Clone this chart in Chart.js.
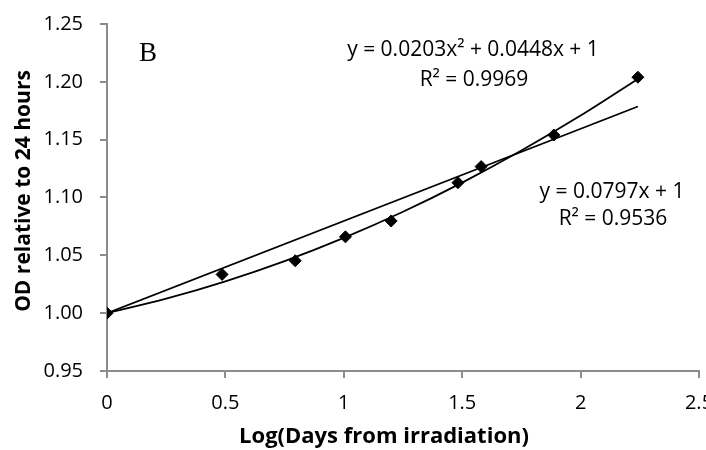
<!DOCTYPE html>
<html lang="en">
<head>
  <meta charset="UTF-8">
  <title>OD relative to 24 hours</title>
  <script src="https://cdn.jsdelivr.net/npm/chart.js"></script>
  <style>
    html, body { margin: 0; padding: 0; background: #fff; overflow: hidden; }
    #wrap { width: 706px; height: 450px; }
  </style>
</head>
<body>
<div id="wrap"><canvas id="grafico"></canvas></div>
<script>
// measured points (log days, OD relative to 24 h)
var logDias = [0, 0.486, 0.795, 1.007, 1.2, 1.482, 1.58, 1.887, 2.242];
var odRel = [1.0, 1.0335, 1.0453, 1.066, 1.0797, 1.1128, 1.1267, 1.154, 1.204];

// linear trendline y = 0.0797x + 1
var linX = [0, 2.242];
var linY = [1.0, 1.1787];

// polynomial trendline y = 0.0203x^2 + 0.0448x + 1
var polyX = [0, 0.25, 0.5, 0.75, 1.0, 1.25, 1.5, 1.75, 2.0, 2.242];
var polyY = [1.0, 1.0125, 1.0275, 1.0450, 1.0651, 1.0877, 1.1129, 1.1406, 1.1708, 1.2025];

var yTicks = [0.95, 1.0, 1.05, 1.10, 1.15, 1.20, 1.25];

function pares(xs, ys){
  var out = [];
  for(var i = 0; i < xs.length; i++){
    out.push({x: xs[i], y: ys[i]});
  }
  return out;
}

var eixoCor = '#8c8c8c';
var fonte = "'Open Sans', 'Liberation Sans', sans-serif";

// texts drawn on top (panel letter, equations, axis titles)
var textos = {
  id: 'textos',
  afterDraw: function(chart){
    var ctx = chart.ctx;
    ctx.save();
    ctx.fillStyle = '#000';
    ctx.textBaseline = 'middle';

    ctx.font = "27px 'Liberation Serif', 'DejaVu Serif', serif";
    ctx.textAlign = 'left';
    ctx.fillText('B', 139, 54);

    ctx.font = '21px ' + fonte;
    ctx.textAlign = 'center';
    ctx.fillText('y = 0.0203x\u00B2 + 0.0448x + 1', 473, 50);
    ctx.fillText('R\u00B2 = 0.9969', 474, 80);
    ctx.fillText('y = 0.0797x + 1', 612, 192);
    ctx.fillText('R\u00B2 = 0.9536', 613, 219);

    ctx.font = 'bold 22px ' + fonte;
    ctx.fillText('Log(Days from irradiation)', 384, 437);

    ctx.font = 'bold 21px ' + fonte;
    ctx.translate(24, 191);
    ctx.rotate(-Math.PI / 2);
    ctx.fillText('OD relative to 24 hours', 0, 0);
    ctx.restore();
  }
};

var ctx = document.getElementById('grafico').getContext('2d');
var myChart = new Chart(ctx, {
  type: 'scatter',
  data: {
    datasets: [{
      label: 'dados',
      data: pares(logDias, odRel),
      pointStyle: 'rectRot',
      pointRadius: 6,
      backgroundColor: '#000',
      borderColor: '#000',
      showLine: false
    }, {
      label: 'linear',
      data: pares(linX, linY),
      showLine: true,
      pointRadius: 0,
      borderColor: '#000',
      borderWidth: 1.8
    }, {
      label: 'polinomial',
      data: pares(polyX, polyY),
      showLine: true,
      pointRadius: 0,
      borderColor: '#000',
      borderWidth: 1.8,
      cubicInterpolationMode: 'monotone'
    }]
  },
  options: {
    responsive: true,
    maintainAspectRatio: false,
    animation: false,
    layout: { padding: { top: 24, right: 2, left: 0, bottom: 0 } },
    plugins: {
      legend: { display: false },
      tooltip: { enabled: false }
    },
    scales: {
      x: {
        type: 'linear',
        min: 0,
        max: 2.5,
        grid: { drawOnChartArea: false, drawTicks: true, tickLength: 7, color: eixoCor, lineWidth: 2 },
        border: { color: eixoCor, width: 2 },
        ticks: {
          stepSize: 0.5,
          color: '#000',
          padding: 13,
          maxRotation: 0,
          font: { family: fonte, size: 20 },
          callback: function(v){ return String(v); }
        },
        afterFit: function(scale){
          scale.height = 79;
          scale.paddingLeft = 0;
          scale.paddingRight = 0;
        }
      },
      y: {
        type: 'linear',
        min: 0.95,
        max: 1.25,
        afterBuildTicks: function(scale){
          scale.ticks = yTicks.map(function(v){ return {value: v}; });
        },
        grid: { drawOnChartArea: false, drawTicks: true, tickLength: 7, color: eixoCor, lineWidth: 2 },
        border: { color: eixoCor, width: 2 },
        ticks: {
          color: '#000',
          padding: 17,
          font: { family: fonte, size: 20 },
          callback: function(v){ return v.toFixed(2); }
        },
        afterFit: function(scale){
          scale.width = 107;
          scale.paddingTop = 0;
          scale.paddingBottom = 0;
        }
      }
    }
  },
  plugins: [textos]
});
</script>
</body>
</html>
